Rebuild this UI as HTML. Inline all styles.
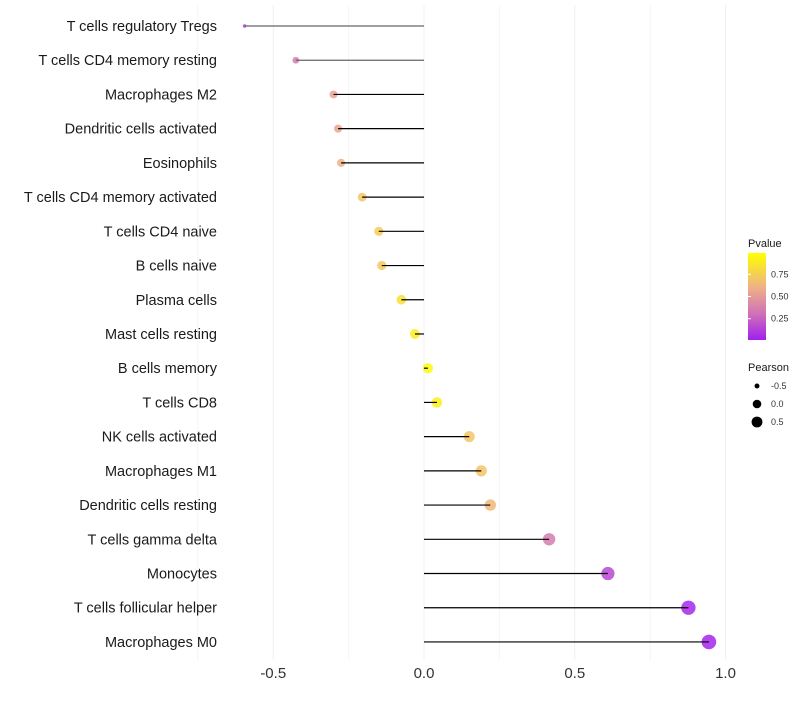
<!DOCTYPE html>
<html><head><meta charset="utf-8"><style>
body{margin:0;background:#fff;font-family:"Liberation Sans",sans-serif;}
svg text{font-family:"Liberation Sans",sans-serif;}
</style></head><body>
<svg id="c" width="800" height="700">
<defs><linearGradient id="pg" x1="0" y1="1" x2="0" y2="0">
<stop offset="0" stop-color="#a020f0"/><stop offset="0.3" stop-color="#d070b8"/><stop offset="0.6" stop-color="#eeb088"/><stop offset="1" stop-color="#ffff00"/></linearGradient></defs>
</svg>
<script>
const categories=["T cells regulatory  Tregs","T cells CD4 memory resting","Macrophages M2","Dendritic cells activated","Eosinophils","T cells CD4 memory activated","T cells CD4 naive","B cells naive","Plasma cells","Mast cells resting","B cells memory","T cells CD8","NK cells activated","Macrophages M1","Dendritic cells resting","T cells gamma delta","Monocytes","T cells follicular helper","Macrophages M0"];
const pearson=[-0.595,-0.425,-0.30,-0.285,-0.275,-0.205,-0.15,-0.14,-0.075,-0.03,0.013,0.043,0.15,0.19,0.22,0.415,0.61,0.877,0.945];
const pvalue=[0.1,0.35,0.55,0.55,0.6,0.7,0.75,0.72,0.85,0.9,0.97,0.92,0.7,0.7,0.65,0.35,0.15,0.03,0.02];
const xTicks=[-0.5,0,0.5,1.0];
const xTickLabels=["-0.5","0.0","0.5","1.0"];
const legP=[0.25,0.5,0.75];
const legPLabels=["0.25","0.50","0.75"];
const legS=[-0.5,0,0.5];
const legSLabels=["-0.5","0.0","0.5"];

const svg=document.getElementById('c');
const NS='http://www.w3.org/2000/svg';
const X=v=>424+v*301.5;
const Y=i=>26+i*34.22;
const R=v=>1.4+5.9*Math.sqrt(Math.max(0,(v+0.6)/1.55));
function lerp(a,b,t){return a.map((x,i)=>Math.round(x+(b[i]-x)*t));}
const stops=[[0,[160,32,240]],[0.3,[208,112,184]],[0.6,[238,176,136]],[1,[255,255,0]]];
function col(p){for(let k=1;k<stops.length;k++){if(p<=stops[k][0]){const t=(p-stops[k-1][0])/(stops[k][0]-stops[k-1][0]);const c=lerp(stops[k-1][1],stops[k][1],t);return `rgb(${c})`;}}return 'rgb(255,255,0)';}
function mk(tag,attrs,txt){const e=document.createElementNS(NS,tag);for(const k in attrs)e.setAttribute(k,attrs[k]);if(txt!==undefined)e.textContent=txt;svg.appendChild(e);return e;}

for(let v=-0.75;v<=1.01;v+=0.25){
  const g=mk('line',{x1:X(v),x2:X(v),y1:5,y2:660,stroke:'#f0f0f0','stroke-width':Math.abs(v*2%1)<1e-6?1:0.6});
  
  
}
xTicks.forEach((v,i)=>{
  const t=mk('text',{x:X(v),y:678,'font-size':15,'text-anchor':'middle',fill:'#333'},xTickLabels[i]);
  
  
});
categories.forEach((c,i)=>{
  const t=mk('text',{x:217,y:Y(i)+5,'font-size':14.5,'text-anchor':'end',fill:'#1a1a1a'},c);
  
  
  const d=mk('circle',{cx:X(pearson[i]),cy:Y(i),r:R(pearson[i]),fill:col(pvalue[i]),'fill-opacity':0.85});
  
  
  const l=mk('line',{x1:X(0),x2:X(pearson[i]),y1:Y(i),y2:Y(i),stroke:i<2?'#666':'#000','stroke-width':1.2});
  
  
});
let t=mk('text',{x:748,y:247,'font-size':11,fill:'#1a1a1a'},'Pvalue');


const bar=mk('rect',{x:748,y:253,width:18,height:87,fill:'url(#pg)'});


const PY=p=>340-(p-0.01)/0.98*87;
legP.forEach((p,i)=>{
  const tk=mk('line',{x1:748,x2:751,y1:PY(p),y2:PY(p),stroke:'#fff'});
  
  
  const l=mk('text',{x:771,y:PY(p)+3,'font-size':9,fill:'#333'},legPLabels[i]);
  
  
});
t=mk('text',{x:748,y:371,'font-size':11,fill:'#1a1a1a'},'Pearson');


legS.forEach((s,i)=>{
  const y=386+i*18;
  const d=mk('circle',{cx:757,cy:y,r:R(s)*0.85,fill:'#000'});
  
  
  const l=mk('text',{x:771,y:y+3,'font-size':9,fill:'#333'},legSLabels[i]);
  
  
});
</script>
</body></html>
